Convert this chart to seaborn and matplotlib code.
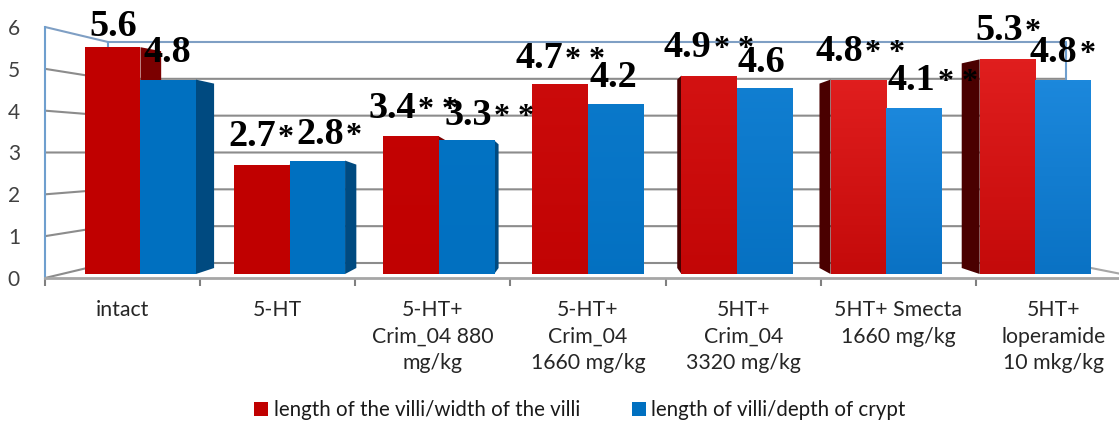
import numpy as np
import pandas as pd
import matplotlib
matplotlib.use('Agg')
import matplotlib.pyplot as plt
from matplotlib.colors import to_rgb
from matplotlib.patches import Polygon
from matplotlib.transforms import IdentityTransform
import seaborn as sns

groups = ['intact', '5-HT', '5-HT+\nCrim_04 880\nmg/kg', '5-HT+\nCrim_04\n1660 mg/kg',
          '5HT+\nCrim_04\n3320 mg/kg', '5HT+ Smecta\n1660 mg/kg', '5HT+\nloperamide\n10 mkg/kg']
width_series = 'length of the villi/width of the villi'
depth_series = 'length of villi/depth of crypt'
width_vals = [5.6, 2.7, 3.4, 4.7, 4.9, 4.8, 5.3]
depth_vals = [4.8, 2.8, 3.3, 4.2, 4.6, 4.1, 4.8]
width_marks = ['', '*', '* *', '* *', '* *', '* *', '*']
depth_marks = ['', '*', '* *', '', '', '* *', '*']

# label anchor (left edge px, baseline px), the labels are placed by hand in the original
width_pos = [(89, 36), (228, 146), (368, 118), (515, 68), (664, 57), (815, 61), (975, 40)]
depth_pos = [(143, 62), (296, 144), (445, 125), (590, 87), (737, 72), (888, 90), (1030, 62)]
# how far the lighter gradient goes per group, 0 is flat office red/blue
shine = [0, 0, 0.1, 0.35, 0.6, 1, 1]

W, H = 1119, 421
sns.set_style('white')
plt.rcParams['font.family'] = ['Lato', 'DejaVu Sans']

fig = plt.figure(figsize=(W / 100, H / 100), dpi=100)

# back frame: side wall, back wall and floor
frame = fig.add_axes([45 / W, (H - 278) / H, (1131 - 45) / W, (278 - 27) / H])
frame.set_xlim(0, 7)
frame.set_ylim(0, 6)
frame.patch.set_visible(False)
for s in ['top', 'right']:
    frame.spines[s].set_visible(False)
frame.spines['left'].set_color('#6f9fce')
frame.spines['left'].set_linewidth(1.5)
frame.spines['bottom'].set_color('#a6a6a6')
frame.spines['bottom'].set_linewidth(2)

back_l, back_r = 0.406, 6.58
def back_y(v):
    return 0.3586 + 0.8805 * v

for v in range(7):
    col = '#7f9fc4' if v == 6 else '#8c8c8c'
    frame.plot([0, back_l, back_r], [v, back_y(v), back_y(v)], color=col, lw=1.5, clip_on=False)
frame.plot([back_l, back_l], [back_y(0), back_y(6)], color='#6f9fce', lw=1.5)
frame.plot([back_r, back_r], [back_y(0), back_y(6)], color='#6f9fce', lw=1.5)
frame.plot([back_r, 7], [back_y(0), 0.05], color='#a6a6a6', lw=1.5)

frame.set_yticks(range(7))
frame.tick_params(axis='y', length=0, pad=18, labelsize=15, labelcolor='#404040')
frame.set_xticks(np.arange(7) + 0.5)
frame.set_xticklabels(groups, fontsize=15.3, color='#262626', linespacing=1.4, ha='center')
frame.set_xticks(range(8), minor=True)
frame.tick_params(axis='x', which='major', length=0, pad=16)
frame.tick_params(axis='x', which='minor', length=6, width=1.5, color='#808080', bottom=True)

# bars
df = pd.DataFrame({
    'group': groups * 2,
    'series': [width_series] * 7 + [depth_series] * 7,
    'value': width_vals + depth_vals,
})
ax = fig.add_axes([0, 0, 1, 1])
ax.patch.set_visible(False)
sns.barplot(data=df, x='group', y='value', hue='series', hue_order=[width_series, depth_series],
            palette=['#c00000', '#0070c0'], width=0.744, gap=0, saturation=1, linewidth=0, ax=ax)
xlim = (-140.5 / 149.1, (W - 140.5) / 149.1)
ylim = (-(H - 274) / 40.5, 274 / 40.5)
ax.set_xlim(xlim)
ax.set_ylim(ylim)
ax.axis('off')

handles, labels = ax.get_legend_handles_labels()
ax.get_legend().remove()
fig.legend(handles, labels, ncol=2, loc='center', bbox_to_anchor=(580 / W, (H - 410) / H), frameon=False,
           fontsize=14.8, handlelength=0.68, handleheight=0.68, handletextpad=0.28, columnspacing=2.5,
           labelcolor='#1a1a1a', borderpad=0)

# extruded sides towards the vanishing point, later groups get a soft gradient
vanish = 590
depth = 0.046
bars = [p for p in ax.patches if p.get_height() > 0]
n = len(groups)
side_cols = ['#7b0000'] * n + ['#004a80'] * n
tops = ['#e01e1e'] * n + ['#1c88dc'] * n
bottoms = ['#c40a0a'] * n + ['#0a72c4'] * n
flats = ['#c00000'] * n + ['#0070c0'] * n
for i, p in enumerate(bars):
    p.set_zorder(3)
    box = p.get_window_extent()
    x0, x1 = box.x0, box.x1
    y0, y1 = box.y0, box.y1

    amount = shine[i % n]
    if amount > 0:
        flat = np.array(to_rgb(flats[i]))
        top = flat + (np.array(to_rgb(tops[i])) - flat) * amount
        bot = flat + (np.array(to_rgb(bottoms[i])) - flat) * amount
        grad = np.linspace(top, bot, 64).reshape(64, 1, 3)
        im = ax.imshow(grad, extent=[p.get_x(), p.get_x() + p.get_width(), 0, p.get_height()],
                       aspect='auto', zorder=3.5 if i >= n else 3)
        im.set_clip_path(p)

    edge = x1 if x1 < vanish else x0
    if x0 < vanish < x1:
        continue
    dx = (vanish - edge) * depth
    col = side_cols[i] if dx > 0 else '#4a0000'
    if dx < 0 and i >= n:
        continue
    pts = [(edge, y0), (edge, y1), (edge + dx, y1 - 4), (edge + dx, y0 + 6)]
    ax.add_patch(Polygon(pts, closed=True, facecolor=col, edgecolor='none', transform=IdentityTransform(), zorder=2, clip_on=False))
ax.set_xlim(xlim)
ax.set_ylim(ylim)

# data labels, numbers are big and bold, the stars follow on the same baseline a bit smaller
renderer = fig.canvas.get_renderer()
labels_all = [(str(v), m, pos) for v, m, pos in zip(width_vals, width_marks, width_pos)]
labels_all += [(str(v), m, pos) for v, m, pos in zip(depth_vals, depth_marks, depth_pos)]
for txt, marks, (px, py) in labels_all:
    num = ax.text(px / W, (H - py) / H, txt, transform=fig.transFigure, fontsize=27.5, fontweight='bold',
                  family='Liberation Serif', color='black', ha='left', va='baseline', zorder=10)
    if marks:
        end = num.get_window_extent(renderer).x1
        ax.text((end + 2) / W, (H - py) / H, marks, transform=fig.transFigure, fontsize=23, fontweight='bold',
                family='Liberation Serif', color='black', ha='left', va='baseline', zorder=10)

fig.savefig('out.png', dpi=100)
